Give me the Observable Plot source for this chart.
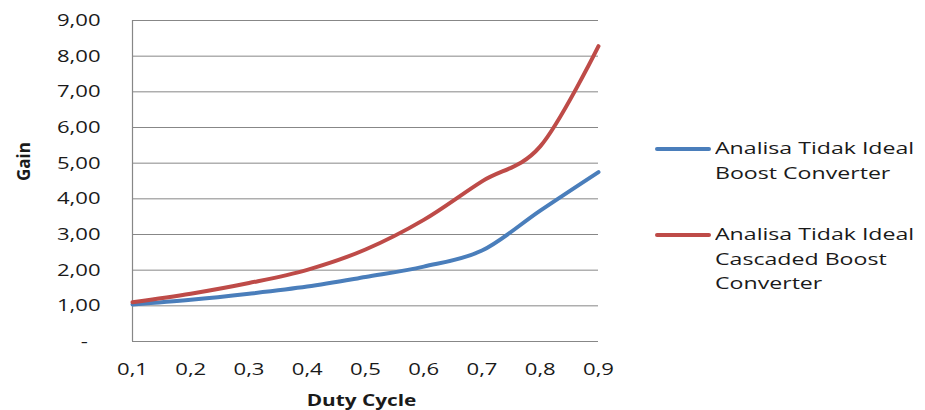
<!DOCTYPE html>
<html>
<head>
<meta charset="utf-8">
<script src="https://cdn.jsdelivr.net/npm/d3@7"></script>
<script src="https://cdn.jsdelivr.net/npm/@observablehq/plot@0.6"></script>
<style>
  html, body { margin: 0; padding: 0; background: #fff; }
  #chart { position: relative; width: 925px; height: 410px; font-family: "Open Sans", sans-serif; color: #1a1a1a; }
  #chart svg { position: absolute; left: 0; top: 0; }
  .legend-item { position: absolute; left: 655px; display: flex; align-items: flex-start; }
  .legend-swatch { width: 56px; height: 4px; border-radius: 2px; margin-top: 11px; flex: none; }
  .legend-text { margin-left: 4px; font-size: 17px; line-height: 24.5px; white-space: nowrap; }
  .legend-text div { transform: scaleX(1.36); transform-origin: left center; }
</style>
</head>
<body>
<div id="chart"></div>
<script>
// Duty cycle D and measured (non-ideal) voltage gain of each converter
const duty = [0.1, 0.2, 0.3, 0.4, 0.5, 0.6, 0.7, 0.8, 0.9];
const boostGain = [1.04, 1.17, 1.34, 1.54, 1.81, 2.10, 2.55, 3.67, 4.75];
const cascadedGain = [1.10, 1.34, 1.64, 2.01, 2.58, 3.41, 4.49, 5.47, 8.28];

const seriesNames = ["Analisa Tidak Ideal Boost Converter", "Analisa Tidak Ideal Cascaded Boost Converter"];
const seriesColors = ["#4a7ebb", "#be4b48"];
const legendLines = [
  ["Analisa Tidak Ideal", "Boost Converter"],
  ["Analisa Tidak Ideal", "Cascaded Boost", "Converter"]
];
const yTicks = [0, 1, 2, 3, 4, 5, 6, 7, 8, 9];
const xTicks = duty;
const xTitle = "Duty Cycle";
const yTitle = "Gain";

const rows = [
  ...duty.map((d, i) => ({d, gain: boostGain[i], series: seriesNames[0]})),
  ...duty.map((d, i) => ({d, gain: cascadedGain[i], series: seriesNames[1]}))
];

const comma = s => s.replace(".", ",");
const gridColor = "#878787";

const chart = Plot.plot({
  width: 925,
  height: 410,
  marginLeft: 132,
  marginRight: 327,
  marginTop: 20,
  marginBottom: 69,
  style: {fontFamily: "'Open Sans', sans-serif", fontSize: "17px", color: "#1a1a1a", background: "transparent", overflow: "visible"},
  x: {domain: [duty[0], duty[duty.length - 1]]},
  y: {domain: [yTicks[0], yTicks[yTicks.length - 1]]},
  color: {domain: seriesNames, range: seriesColors},
  marks: [
    Plot.gridY(yTicks, {stroke: gridColor, strokeOpacity: 1, strokeWidth: 1}),
    Plot.ruleX([duty[0]], {stroke: gridColor, strokeWidth: 1.2}),
    Plot.axisY(yTicks, {
      tickSize: 0, tickPadding: 32, label: null,
      tickFormat: v => v === 0 ? "-\u2007" : comma(v.toFixed(2))
    }),
    Plot.axisX(xTicks, {
      tickSize: 0, tickPadding: 21, label: null,
      tickFormat: v => comma(d3.format(".1f")(v))
    }),
    Plot.line(rows, {x: "d", y: "gain", stroke: "series", strokeWidth: 4, curve: "cardinal", strokeLinecap: "round"}),
    Plot.text([xTitle], {
      frameAnchor: "bottom", text: d => d, dy: 59, dx: -4,
      fontWeight: "bold", fontSize: 16, lineAnchor: "middle"
    }),
    Plot.text([yTitle], {
      frameAnchor: "left", text: d => d, dx: -108, rotate: -90,
      fontWeight: "bold", fontSize: 17, lineAnchor: "middle"
    })
  ]
});

const host = document.getElementById("chart");
host.appendChild(chart);

// Widen the horizontal labels to the chart's broad lettering (rotated title stays as is)
const stretch = 1.3;
chart.querySelectorAll("text").forEach(t => {
  const tr = (t.getAttribute("transform") || "") + (t.parentNode.getAttribute("transform") || "");
  if (tr.includes("rotate")) return;
  const w = t.getComputedTextLength();
  if (!w) return;
  t.setAttribute("textLength", (w * stretch).toFixed(1));
  t.setAttribute("lengthAdjust", "spacingAndGlyphs");
});

// Legend on the right
const legendTops = [136, 222];
seriesNames.forEach((name, i) => {
  const item = document.createElement("div");
  item.className = "legend-item";
  item.style.top = legendTops[i] + "px";
  const sw = document.createElement("div");
  sw.className = "legend-swatch";
  sw.style.background = seriesColors[i];
  const txt = document.createElement("div");
  txt.className = "legend-text";
  legendLines[i].forEach(line => {
    const l = document.createElement("div");
    l.textContent = line;
    txt.appendChild(l);
  });
  item.appendChild(sw);
  item.appendChild(txt);
  host.appendChild(item);
});
</script>
</body>
</html>
